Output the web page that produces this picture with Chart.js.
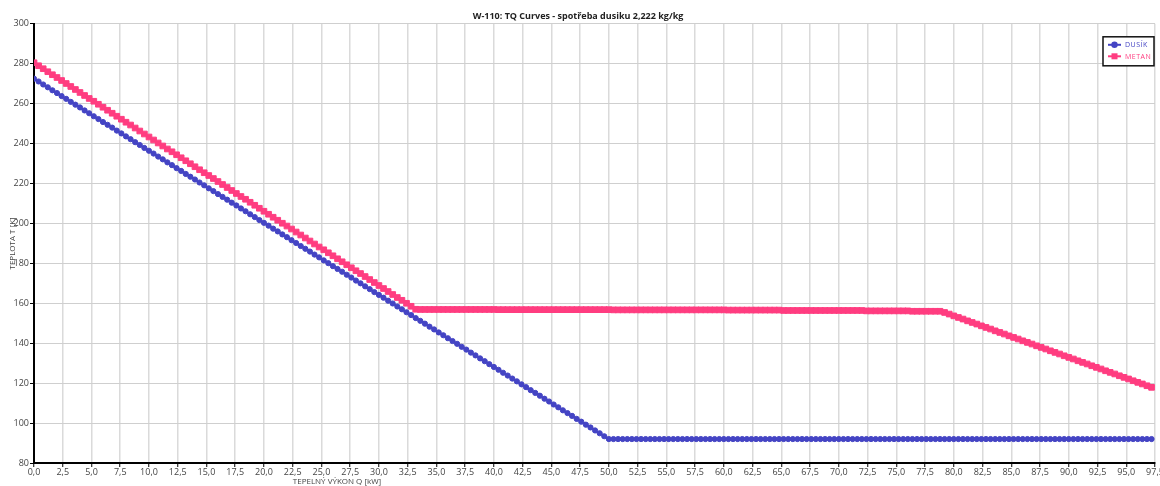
<!DOCTYPE html>
<html>
<head>
<meta charset="utf-8">
<script src="https://cdn.jsdelivr.net/npm/chart.js@4/dist/chart.umd.min.js"></script>
<style>
  html, body { margin: 0; padding: 0; background: #fff; overflow: hidden; }
  canvas { display: block; }
</style>
</head>
<body>
<canvas id="tqChart" width="1160" height="486"></canvas>
<script>
// W-110 TQ curves

const chartTitle = 'W-110: TQ Curves - spotřeba dusiku 2,222 kg/kg';
const xTitle = 'TEPELNÝ VÝKON Q [kW]';
const yTitle = 'TEPLOTA T [K]';
const seriesNames = ['DUSÍK', 'METAN'];
const seriesColors = ['#4444c4', '#ff3d80'];

// heat duty Q [kW]
const qValues = [
  0, 0.4, 0.8, 1.2, 1.6, 2, 2.4, 2.8, 3.2, 3.6,
  4, 4.4, 4.8, 5.2, 5.6, 6, 6.4, 6.8, 7.2, 7.6,
  8, 8.4, 8.8, 9.2, 9.6, 10, 10.4, 10.8, 11.2, 11.6,
  12, 12.4, 12.8, 13.2, 13.6, 14, 14.4, 14.8, 15.2, 15.6,
  16, 16.4, 16.8, 17.2, 17.6, 18, 18.4, 18.8, 19.2, 19.6,
  20, 20.4, 20.8, 21.2, 21.6, 22, 22.4, 22.8, 23.2, 23.6,
  24, 24.4, 24.8, 25.2, 25.6, 26, 26.4, 26.8, 27.2, 27.6,
  28, 28.4, 28.8, 29.2, 29.6, 30, 30.4, 30.8, 31.2, 31.6,
  32, 32.4, 32.8, 33.2, 33.6, 34, 34.4, 34.8, 35.2, 35.6,
  36, 36.4, 36.8, 37.2, 37.6, 38, 38.4, 38.8, 39.2, 39.6,
  40, 40.4, 40.8, 41.2, 41.6, 42, 42.4, 42.8, 43.2, 43.6,
  44, 44.4, 44.8, 45.2, 45.6, 46, 46.4, 46.8, 47.2, 47.6,
  48, 48.4, 48.8, 49.2, 49.6, 50, 50.4, 50.8, 51.2, 51.6,
  52, 52.4, 52.8, 53.2, 53.6, 54, 54.4, 54.8, 55.2, 55.6,
  56, 56.4, 56.8, 57.2, 57.6, 58, 58.4, 58.8, 59.2, 59.6,
  60, 60.4, 60.8, 61.2, 61.6, 62, 62.4, 62.8, 63.2, 63.6,
  64, 64.4, 64.8, 65.2, 65.6, 66, 66.4, 66.8, 67.2, 67.6,
  68, 68.4, 68.8, 69.2, 69.6, 70, 70.4, 70.8, 71.2, 71.6,
  72, 72.4, 72.8, 73.2, 73.6, 74, 74.4, 74.8, 75.2, 75.6,
  76, 76.4, 76.8, 77.2, 77.6, 78, 78.4, 78.8, 79.2, 79.6,
  80, 80.4, 80.8, 81.2, 81.6, 82, 82.4, 82.8, 83.2, 83.6,
  84, 84.4, 84.8, 85.2, 85.6, 86, 86.4, 86.8, 87.2, 87.6,
  88, 88.4, 88.8, 89.2, 89.6, 90, 90.4, 90.8, 91.2, 91.6,
  92, 92.4, 92.8, 93.2, 93.6, 94, 94.4, 94.8, 95.2, 95.6,
  96, 96.4, 96.8, 97.2
];

// nitrogen temperature [K]
const dusikT = [
  272.5, 271.1, 269.6, 268.2, 266.7, 265.3, 263.8, 262.4, 260.9, 259.5,
  258.1, 256.6, 255.2, 253.7, 252.3, 250.8, 249.4, 248.0, 246.5, 245.1,
  243.6, 242.2, 240.7, 239.3, 237.8, 236.4, 235.0, 233.5, 232.1, 230.6,
  229.2, 227.7, 226.3, 224.8, 223.4, 222.0, 220.5, 219.1, 217.6, 216.2,
  214.7, 213.3, 211.9, 210.4, 209.0, 207.5, 206.1, 204.6, 203.2, 201.7,
  200.3, 198.9, 197.4, 196.0, 194.5, 193.1, 191.6, 190.2, 188.7, 187.3,
  185.9, 184.4, 183.0, 181.5, 180.1, 178.6, 177.2, 175.8, 174.3, 172.9,
  171.4, 170.0, 168.5, 167.1, 165.6, 164.2, 162.8, 161.3, 159.9, 158.4,
  157.0, 155.5, 154.1, 152.6, 151.2, 149.8, 148.3, 146.9, 145.4, 144.0,
  142.5, 141.1, 139.7, 138.2, 136.8, 135.3, 133.9, 132.4, 131.0, 129.5,
  128.1, 126.7, 125.2, 123.8, 122.3, 120.9, 119.4, 118.0, 116.5, 115.1,
  113.7, 112.2, 110.8, 109.3, 107.9, 106.4, 105.0, 103.6, 102.1, 100.7,
  99.2, 97.8, 96.3, 94.9, 93.4, 92.0, 92.0, 92.0, 92.0, 92.0,
  92.0, 92.0, 92.0, 92.0, 92.0, 92.0, 92.0, 92.0, 92.0, 92.0,
  92.0, 92.0, 92.0, 92.0, 92.0, 92.0, 92.0, 92.0, 92.0, 92.0,
  92.0, 92.0, 92.0, 92.0, 92.0, 92.0, 92.0, 92.0, 92.0, 92.0,
  92.0, 92.0, 92.0, 92.0, 92.0, 92.0, 92.0, 92.0, 92.0, 92.0,
  92.0, 92.0, 92.0, 92.0, 92.0, 92.0, 92.0, 92.0, 92.0, 92.0,
  92.0, 92.0, 92.0, 92.0, 92.0, 92.0, 92.0, 92.0, 92.0, 92.0,
  92.0, 92.0, 92.0, 92.0, 92.0, 92.0, 92.0, 92.0, 92.0, 92.0,
  92.0, 92.0, 92.0, 92.0, 92.0, 92.0, 92.0, 92.0, 92.0, 92.0,
  92.0, 92.0, 92.0, 92.0, 92.0, 92.0, 92.0, 92.0, 92.0, 92.0,
  92.0, 92.0, 92.0, 92.0, 92.0, 92.0, 92.0, 92.0, 92.0, 92.0,
  92.0, 92.0, 92.0, 92.0, 92.0, 92.0, 92.0, 92.0, 92.0, 92.0,
  92.0, 92.0, 92.0, 92.0
];

// methane temperature [K]
const metanT = [
  280.5, 279.0, 277.5, 276.0, 274.5, 273.1, 271.6, 270.1, 268.6, 267.1,
  265.6, 264.1, 262.6, 261.2, 259.7, 258.2, 256.7, 255.2, 253.7, 252.2,
  250.7, 249.3, 247.8, 246.3, 244.8, 243.3, 241.8, 240.3, 238.8, 237.3,
  235.9, 234.4, 232.9, 231.4, 229.9, 228.4, 226.9, 225.4, 224.0, 222.5,
  221.0, 219.5, 218.0, 216.5, 215.0, 213.5, 212.1, 210.6, 209.1, 207.6,
  206.1, 204.6, 203.1, 201.6, 200.1, 198.7, 197.2, 195.7, 194.2, 192.7,
  191.2, 189.7, 188.2, 186.8, 185.3, 183.8, 182.3, 180.8, 179.3, 177.8,
  176.3, 174.9, 173.4, 171.9, 170.4, 168.9, 167.4, 165.9, 164.4, 162.9,
  161.5, 160.0, 158.5, 157.0, 156.9, 156.9, 156.9, 156.9, 156.9, 156.9,
  156.9, 156.9, 156.9, 156.9, 156.9, 156.9, 156.9, 156.9, 156.9, 156.9,
  156.9, 156.8, 156.8, 156.8, 156.8, 156.8, 156.8, 156.8, 156.8, 156.8,
  156.8, 156.8, 156.8, 156.8, 156.8, 156.8, 156.8, 156.8, 156.8, 156.8,
  156.8, 156.8, 156.8, 156.8, 156.8, 156.8, 156.7, 156.7, 156.7, 156.7,
  156.7, 156.7, 156.7, 156.7, 156.7, 156.7, 156.7, 156.7, 156.7, 156.7,
  156.7, 156.7, 156.7, 156.7, 156.7, 156.7, 156.7, 156.7, 156.7, 156.7,
  156.7, 156.6, 156.6, 156.6, 156.6, 156.6, 156.6, 156.6, 156.6, 156.6,
  156.6, 156.6, 156.6, 156.4, 156.4, 156.4, 156.4, 156.4, 156.4, 156.4,
  156.4, 156.4, 156.4, 156.4, 156.4, 156.4, 156.4, 156.4, 156.4, 156.4,
  156.4, 156.2, 156.2, 156.2, 156.2, 156.2, 156.2, 156.2, 156.2, 156.2,
  156.2, 156.0, 156.0, 156.0, 156.0, 156.0, 156.0, 156.0, 155.4, 154.6,
  153.7, 152.9, 152.1, 151.2, 150.4, 149.6, 148.7, 147.9, 147.1, 146.2,
  145.4, 144.6, 143.7, 142.9, 142.1, 141.2, 140.4, 139.6, 138.7, 137.9,
  137.1, 136.2, 135.4, 134.6, 133.7, 132.9, 132.1, 131.2, 130.4, 129.6,
  128.7, 127.9, 127.1, 126.2, 125.4, 124.6, 123.7, 122.9, 122.1, 121.2,
  120.4, 119.6, 118.7, 117.9
];

// axis ranges / steps
const xMin = 0, xMax = 97.5, xStep = 2.5;
const yMin = 80, yMax = 300, yStep = 20;

const FONT = '"Open Sans", "Noto Sans", sans-serif';

function toPoints(ys) {
  return qValues.map((q, i) => ({ x: q, y: ys[i] }));
}

// x-axis title (sits left of centre in the original) and boxed legend
const extrasPlugin = {
  id: 'extras',
  afterDraw(chart) {
    const ctx = chart.ctx;
    const area = chart.chartArea;
    ctx.save();

    ctx.font = '8px ' + FONT;
    ctx.fillStyle = '#444';
    ctx.textAlign = 'center';
    ctx.textBaseline = 'middle';
    ctx.fillText(xTitle, 337, 482);

    // legend
    const boxR = area.right - 1;
    const boxL = boxR - 51;
    const boxT = area.top + 13;
    const boxH = 29;
    ctx.fillStyle = '#fff';
    ctx.fillRect(boxL, boxT, boxR - boxL, boxH);
    ctx.strokeStyle = '#111';
    ctx.lineWidth = 1.5;
    ctx.strokeRect(boxL, boxT, boxR - boxL, boxH);

    chart.data.datasets.forEach((ds, i) => {
      const y = boxT + 8 + i * 11.5;
      const lx = boxL + 5;
      ctx.strokeStyle = ds.borderColor;
      ctx.lineWidth = 2;
      ctx.beginPath();
      ctx.moveTo(lx, y);
      ctx.lineTo(lx + 13, y);
      ctx.stroke();
      ctx.fillStyle = ds.borderColor;
      if (ds.pointStyle === 'rect') {
        ctx.fillRect(lx + 3.5, y - 3, 6, 6);
      } else {
        ctx.beginPath();
        ctx.arc(lx + 6.5, y, 3.2, 0, Math.PI * 2);
        ctx.fill();
      }
      ctx.font = '7px ' + FONT;
      ctx.textAlign = 'left';
      ctx.letterSpacing = '0.5px';
      ctx.fillText(ds.label, lx + 17, y + 0.5);
      ctx.letterSpacing = '0px';
    });

    ctx.restore();
  }
};

new Chart(document.getElementById('tqChart'), {
  type: 'line',
  data: {
    datasets: [
      {
        label: seriesNames[0],
        data: toPoints(dusikT),
        borderColor: seriesColors[0],
        backgroundColor: seriesColors[0],
        borderWidth: 2,
        pointStyle: 'circle',
        pointRadius: 2.6,
        pointBorderWidth: 1,
        tension: 0
      },
      {
        label: seriesNames[1],
        data: toPoints(metanT),
        borderColor: seriesColors[1],
        backgroundColor: seriesColors[1],
        borderWidth: 2,
        pointStyle: 'rect',
        pointRadius: 4,
        pointBorderWidth: 1,
        tension: 0
      }
    ]
  },
  options: {
    responsive: false,
    animation: false,
    devicePixelRatio: 1,
    layout: { padding: { right: 4 } },
    plugins: {
      legend: { display: false },
      tooltip: { enabled: false },
      title: {
        display: true,
        text: chartTitle,
        color: '#222',
        font: { family: FONT, size: 9, weight: 'bold' },
        padding: { top: 11, bottom: 2 }
      }
    },
    scales: {
      x: {
        type: 'linear',
        min: xMin,
        max: xMax,
        grid: { color: '#dadada', lineWidth: 1.5, tickColor: '#000', tickLength: 4, tickWidth: 1 },
        border: { color: '#000', width: 2 },
        ticks: {
          stepSize: xStep,
          autoSkip: false,
          maxRotation: 0,
          padding: 0,
          color: '#444',
          font: { family: FONT, size: 9 },
          callback: v => v.toFixed(1).replace('.', ',')
        },
        afterFit: s => { s.height = 23; s.paddingRight = 0; }
      },
      y: {
        type: 'linear',
        min: yMin,
        max: yMax,
        grid: { color: '#cfcfcf', lineWidth: 1, tickColor: '#000', tickLength: 4, tickWidth: 1 },
        border: { color: '#000', width: 2 },
        title: {
          display: true,
          text: yTitle,
          color: '#444',
          font: { family: FONT, size: 8 },
          padding: { top: 8, bottom: 0 }
        },
        ticks: {
          stepSize: yStep,
          padding: 1,
          color: '#444',
          font: { family: FONT, size: 9 }
        },
        afterFit: s => { s.width = 34; }
      }
    }
  },
  plugins: [extrasPlugin]
});
</script>
</body>
</html>
